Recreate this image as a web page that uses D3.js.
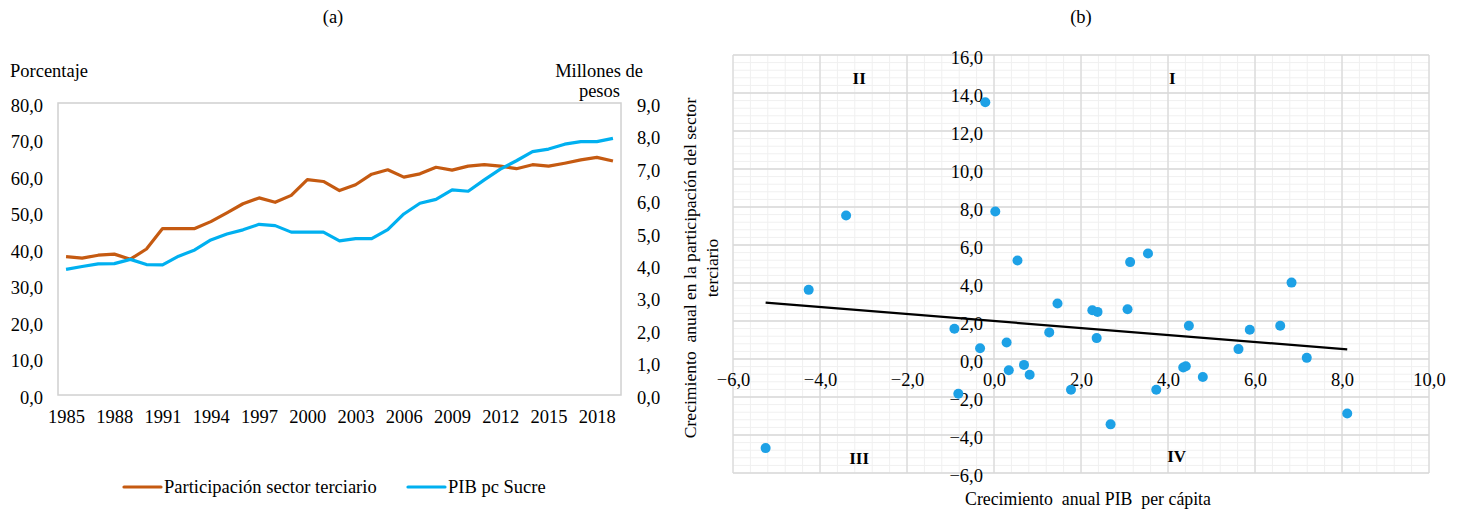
<!DOCTYPE html>
<html lang="es">
<head>
<meta charset="UTF-8">
<title>Sector terciario y PIB pc Sucre</title>
<script src="https://cdn.jsdelivr.net/npm/d3@7"></script>
<style>
  body { margin: 0; background: #fff; }
  text { font-family: "Liberation Serif", "Times New Roman", serif; fill: #000; }
</style>
</head>
<body>
<script>
// datos panel (a)
var years = [1985, 1986, 1987, 1988, 1989, 1990, 1991, 1992, 1993, 1994, 1995, 1996,
  1997, 1998, 1999, 2000, 2001, 2002, 2003, 2004, 2005, 2006, 2007, 2008, 2009, 2010,
  2011, 2012, 2013, 2014, 2015, 2016, 2017, 2018, 2019];
var yearLabels = [1985, 1988, 1991, 1994, 1997, 2000, 2003, 2006, 2009, 2012, 2015, 2018];
var terciario = [37.9, 37.5, 38.3, 38.6, 37.2, 40.0, 45.6, 45.6, 45.6, 47.5, 49.9, 52.4,
  54.0, 52.8, 54.7, 59.0, 58.5, 56.0, 57.6, 60.5, 61.7, 59.7, 60.6, 62.4, 61.6, 62.7,
  63.1, 62.7, 62.0, 63.1, 62.7, 63.5, 64.4, 65.1, 64.1];
var pibpc = [3.87, 3.96, 4.04, 4.05, 4.18, 4.02, 4.01, 4.28, 4.47, 4.78, 4.96, 5.09,
  5.26, 5.22, 5.02, 5.02, 5.02, 4.75, 4.82, 4.82, 5.10, 5.58, 5.91, 6.03, 6.32, 6.28,
  6.63, 6.96, 7.22, 7.50, 7.58, 7.73, 7.81, 7.81, 7.91];
var leftTicks = [0, 10, 20, 30, 40, 50, 60, 70, 80];
var rightTicks = [0, 1, 2, 3, 4, 5, 6, 7, 8, 9];

// datos panel (b): crecimiento anual PIB pc (x) vs participacion terciario (y)
var growthPib = [-0.20, 0.03, -3.40, 0.54, 3.13, 3.54, 6.84, -4.26, -5.25, -0.91, -0.32,
  0.29, 0.34, 0.69, 0.82, -0.82, 1.46, 1.27, 1.77, 2.26, 2.38, 2.36, 3.07, 2.68, 3.73,
  4.35, 4.41, 4.48, 4.80, 5.62, 5.88, 6.58, 7.19, 8.12];
var growthTerc = [13.51, 7.76, 7.55, 5.18, 5.10, 5.55, 4.02, 3.64, -4.69, 1.59, 0.57,
  0.87, -0.59, -0.31, -0.83, -1.83, 2.92, 1.40, -1.62, 2.57, 2.48, 1.10, 2.62, -3.44, -1.62,
  -0.45, -0.38, 1.75, -0.95, 0.52, 1.54, 1.75, 0.06, -2.87];
var xTicksB = [-6, -4, -2, 0, 2, 4, 6, 8, 10];
var yTicksB = [-6, -4, -2, 0, 2, 4, 6, 8, 10, 12, 14, 16];

var es = d3.formatLocale({decimal: ",", thousands: ".", grouping: [3], currency: ["", ""]});
var fmt = es.format(".1f");
var FS = "18.5px";

var svg = d3.select("body").append("svg").attr("width", 1462).attr("height", 514);

// ---------- (a) ----------
var x = d3.scalePoint().domain(years).range([58, 621]).padding(0.5);
var yL = d3.scaleLinear().domain([0, 80]).range([395, 103]);
var yR = d3.scaleLinear().domain([0, 9]).range([395, 103]);

svg.append("text").attr("x", 333).attr("y", 23).attr("text-anchor", "middle")
  .style("font-size", FS).text("(a)");

svg.append("rect").attr("x", 58).attr("y", 103).attr("width", 563).attr("height", 292)
  .attr("fill", "none").attr("stroke", "#d0d0d0").attr("stroke-width", 1.5);

var axL = svg.append("g").attr("transform", "translate(52,0)")
  .call(d3.axisLeft(yL).tickValues(leftTicks).tickFormat(fmt).tickSize(0).tickPadding(9));
var axR = svg.append("g").attr("transform", "translate(628,0)")
  .call(d3.axisRight(yR).tickValues(rightTicks).tickFormat(fmt).tickSize(0).tickPadding(9));
var axX = svg.append("g").attr("transform", "translate(0,401)")
  .call(d3.axisBottom(x).tickValues(yearLabels).tickSize(0).tickPadding(9));
[axL, axR, axX].forEach(function(g) {
  g.select(".domain").remove();
  g.selectAll("text").style("font-size", FS).style("font-family", "Liberation Serif").attr("fill", "#000");
});
axL.selectAll("text").attr("dy", "0.45em");
axR.selectAll("text").attr("dy", "0.45em");

svg.append("text").attr("x", 10).attr("y", 77).style("font-size", FS).text("Porcentaje");
svg.append("text").attr("x", 643).attr("y", 77).attr("text-anchor", "end")
  .style("font-size", FS).text("Millones de");
svg.append("text").attr("x", 620).attr("y", 97).attr("text-anchor", "end")
  .style("font-size", FS).text("pesos");

var lineT = d3.line().x(function(d, i) { return x(years[i]); }).y(function(d) { return yL(d); });
var lineP = d3.line().x(function(d, i) { return x(years[i]); }).y(function(d) { return yR(d); });

svg.append("path").datum(terciario).attr("d", lineT).attr("fill", "none")
  .attr("stroke", "#c55a11").attr("stroke-width", 3.2).attr("stroke-linejoin", "round");
svg.append("path").datum(pibpc).attr("d", lineP).attr("fill", "none")
  .attr("stroke", "#00b0f0").attr("stroke-width", 3.2).attr("stroke-linejoin", "round");

// leyenda
var legend = [
  {label: "Participación sector terciario", color: "#c55a11", x: 124},
  {label: "PIB pc Sucre", color: "#00b0f0", x: 408}
];
var lg = svg.selectAll(".lg").data(legend).enter().append("g").attr("class", "lg")
  .attr("transform", function(d) { return "translate(" + d.x + ",487)"; });
lg.append("line").attr("x1", 0).attr("x2", 37).attr("stroke", function(d) { return d.color; })
  .attr("stroke-width", 3.2).attr("stroke-linecap", "round");
lg.append("text").attr("x", 40).attr("dy", "0.35em").style("font-size", FS)
  .text(function(d) { return d.label; });

// ---------- (b) ----------
var xs = d3.scaleLinear().domain([-6, 10]).range([733, 1429]);
var ys = d3.scaleLinear().domain([-6, 16]).range([473, 55]);

svg.append("text").attr("x", 1081).attr("y", 23).attr("text-anchor", "middle")
  .style("font-size", FS).text("(b)");

var grid = svg.append("g");
var minorX = d3.range(-6, 10.001, 0.4), minorY = d3.range(-6, 16.001, 0.4);
grid.selectAll(".mx").data(minorX).enter().append("line")
  .attr("x1", xs).attr("x2", xs).attr("y1", ys(-6)).attr("y2", ys(16))
  .attr("stroke", "#f0f0f0").attr("stroke-width", 1);
grid.selectAll(".my").data(minorY).enter().append("line")
  .attr("y1", ys).attr("y2", ys).attr("x1", xs(-6)).attr("x2", xs(10))
  .attr("stroke", "#f0f0f0").attr("stroke-width", 1);
grid.selectAll(".gx").data(xTicksB).enter().append("line")
  .attr("x1", xs).attr("x2", xs).attr("y1", ys(-6)).attr("y2", ys(16))
  .attr("stroke", "#d9d9d9").attr("stroke-width", 1.3);
grid.selectAll(".gy").data(yTicksB).enter().append("line")
  .attr("y1", ys).attr("y2", ys).attr("x1", xs(-6)).attr("x2", xs(10))
  .attr("stroke", "#d9d9d9").attr("stroke-width", 1.3);

var axBx = svg.append("g").attr("transform", "translate(0," + ys(0) + ")")
  .call(d3.axisBottom(xs).tickValues(xTicksB).tickFormat(fmt).tickSize(0).tickPadding(14));
var axBy = svg.append("g").attr("transform", "translate(" + xs(0) + ",0)")
  .call(d3.axisLeft(ys).tickValues(yTicksB).tickFormat(fmt).tickSize(0).tickPadding(11));
[axBx, axBy].forEach(function(g) {
  g.select(".domain").remove();
  g.selectAll("text").style("font-size", FS).style("font-family", "Liberation Serif").attr("fill", "#000");
});
axBy.selectAll("text").attr("dy", "0.45em");

// cuadrantes
var quads = [["II", -3.1, 14.8], ["I", 4.1, 14.8], ["III", -3.1, -5.2], ["IV", 4.2, -5.1]];
svg.selectAll(".q").data(quads).enter().append("text")
  .attr("x", function(d) { return xs(d[1]); }).attr("y", function(d) { return ys(d[2]); })
  .attr("text-anchor", "middle").attr("dy", "0.35em")
  .style("font-size", "17px").style("font-weight", "bold").text(function(d) { return d[0]; });

// linea de tendencia (minimos cuadrados)
var pts = growthPib.map(function(v, i) { return [v, growthTerc[i]]; });
var mx = d3.mean(growthPib), my = d3.mean(growthTerc);
var slope = d3.sum(pts, function(p) { return (p[0] - mx) * (p[1] - my); }) /
  d3.sum(pts, function(p) { return (p[0] - mx) * (p[0] - mx); });
var icpt = my - slope * mx;
var ext = d3.extent(growthPib);
svg.append("line")
  .attr("x1", xs(ext[0])).attr("y1", ys(icpt + slope * ext[0]))
  .attr("x2", xs(ext[1])).attr("y2", ys(icpt + slope * ext[1]))
  .attr("stroke", "#000").attr("stroke-width", 2.2);

svg.selectAll(".pt").data(pts).enter().append("circle")
  .attr("cx", function(d) { return xs(d[0]); }).attr("cy", function(d) { return ys(d[1]); })
  .attr("r", 5).attr("fill", "#1da1e6");

svg.append("text").attr("x", 1088).attr("y", 505).attr("text-anchor", "middle")
  .attr("xml:space", "preserve").style("white-space", "pre").style("font-size", "17.8px")
  .text("Crecimiento  anual PIB  per cápita");

var yt = svg.append("text").attr("transform", "translate(690,268) rotate(-90)")
  .attr("text-anchor", "middle").style("font-size", "17.6px").style("white-space", "pre");
yt.append("tspan").attr("x", 0).attr("dy", "0.35em").text("Crecimiento  anual en la participación del sector");
yt.append("tspan").attr("x", 0).attr("dy", "1.25em").text("terciario");
</script>
</body>
</html>
